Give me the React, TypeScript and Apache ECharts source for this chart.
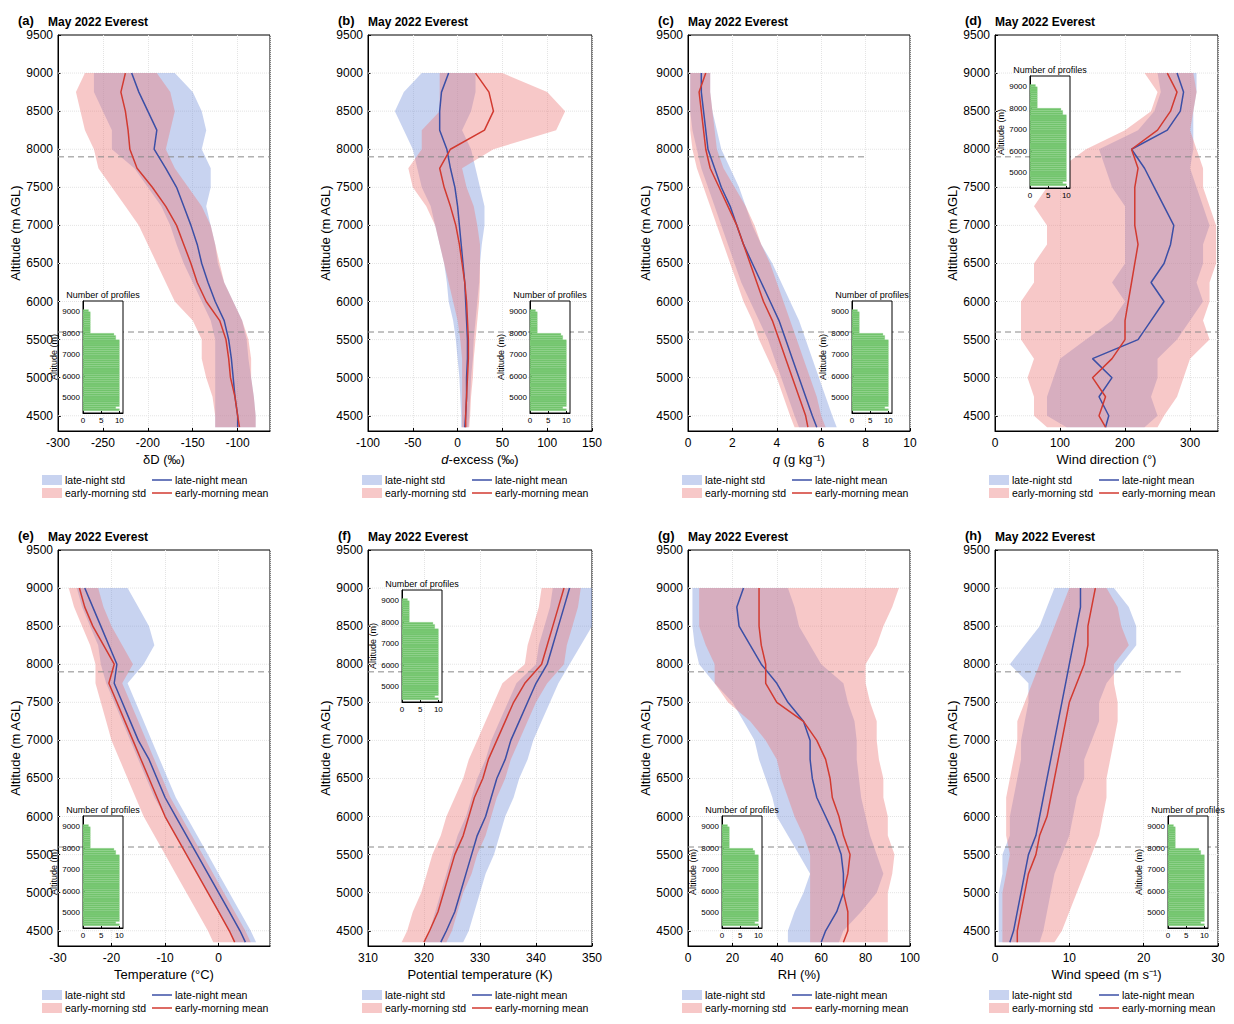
import React, { useEffect, useRef } from 'react';
import * as echarts from 'echarts';

const FONT = 'Liberation Sans';
const BLUE = '#3b4fa6';
const RED = '#d23a30';
const BLUE_BAND = 'rgba(125,150,220,0.42)';
const RED_BAND = 'rgba(235,125,125,0.42)';
const GREEN = '#72c46c';

const ALT = [4350, 4500, 4750, 5000, 5250, 5500, 5750, 6000, 6250, 6500, 6750, 7000, 7250, 7500, 7750, 8000, 8250, 8500, 8750, 9000];
const ALT_TICKS = [4500, 5000, 5500, 6000, 6500, 7000, 7500, 8000, 8500, 9000, 9500];
const INSET_TICKS = [5000, 6000, 7000, 8000, 9000];

// profile counts per 100 m bin
const HIST_ALT = [4450, 4550, 4650, 4750, 4850, 4950, 5050, 5150, 5250, 5350, 5450, 5550, 5650, 5750, 5850, 5950, 6050, 6150, 6250, 6350, 6450, 6550, 6650, 6750, 6850, 6950, 7050, 7150, 7250, 7350, 7450, 7550, 7650, 7750, 7850, 7950, 8050, 8150, 8250, 8350, 8450, 8550, 8650, 8750, 8850, 8950, 9050];
const HIST_N = [10, 9, 10, 10, 10, 10, 10, 10, 10, 10, 10, 10, 10, 10, 10, 10, 10, 10, 10, 10, 10, 10, 10, 10, 10, 10, 10, 10, 10, 10, 10, 10, 10, 9, 9, 8.5, 2, 2, 2, 2, 2, 2, 2, 2, 2, 2, 1.5];

// (a) dD
const dD_ln = [-100, -100, -103, -105, -107, -110, -115, -125, -133, -140, -145, -152, -160, -168, -180, -193, -190, -200, -210, -218];
const dD_em = [-98, -100, -103, -108, -110, -113, -120, -135, -145, -152, -160, -168, -180, -195, -212, -220, -222, -225, -230, -225];
const dD_lnLo = [-125, -125, -125, -125, -125, -125, -130, -140, -150, -160, -168, -175, -185, -200, -215, -240, -240, -250, -260, -260];
const dD_lnHi = [-80, -80, -82, -85, -88, -90, -95, -105, -115, -122, -125, -130, -135, -130, -130, -140, -135, -140, -150, -170];
const dD_emLo = [-125, -125, -128, -135, -140, -140, -150, -170, -180, -190, -200, -210, -225, -240, -255, -260, -270, -275, -280, -270];
const dD_emHi = [-80, -80, -82, -85, -85, -88, -95, -105, -115, -120, -125, -130, -140, -155, -170, -180, -175, -170, -175, -190];

// (b) d-excess
const dx_ln = [8, 9, 10, 10, 11, 11, 10, 9, 8, 6, 4, 2, 0, -3, -8, -12, -20, -20, -18, -10];
const dx_em = [9, 9, 10, 11, 12, 12, 11, 10, 8, 5, 2, -2, -8, -15, -20, -8, 30, 40, 35, 20];
const dx_lnLo = [4, 4, 3, 2, 0, -2, -5, -10, -12, -15, -20, -25, -30, -40, -45, -50, -60, -70, -60, -40];
const dx_lnHi = [12, 13, 14, 15, 17, 18, 20, 22, 24, 25, 27, 30, 30, 25, 20, 15, 5, 15, 20, 20];
const dx_emLo = [5, 5, 5, 5, 5, 3, 0, -5, -10, -15, -20, -25, -35, -50, -55, -40, -40, -20, -20, -20];
const dx_emHi = [13, 14, 15, 17, 18, 20, 22, 24, 25, 25, 25, 22, 18, 10, 5, 40, 110, 120, 100, 50];

// (c) q
const q_ln = [5.8, 5.6, 5.3, 5.0, 4.7, 4.4, 4.1, 3.7, 3.3, 2.9, 2.5, 2.2, 1.9, 1.5, 1.2, 0.9, 0.8, 0.7, 0.6, 0.6];
const q_em = [5.4, 5.3, 5.0, 4.7, 4.4, 4.1, 3.8, 3.4, 3.1, 2.8, 2.5, 2.2, 1.8, 1.4, 1.0, 0.8, 0.7, 0.6, 0.5, 0.8];
const q_lnLo = [5.0, 4.8, 4.5, 4.2, 3.9, 3.6, 3.2, 2.8, 2.4, 2.1, 1.8, 1.5, 1.2, 0.9, 0.6, 0.4, 0.2, 0.1, 0.1, 0.1];
const q_lnHi = [6.7, 6.5, 6.2, 5.9, 5.6, 5.3, 5.0, 4.6, 4.2, 3.8, 3.3, 2.9, 2.6, 2.3, 1.9, 1.5, 1.3, 1.1, 1.0, 1.0];
const q_emLo = [4.8, 4.6, 4.3, 4.0, 3.6, 3.2, 2.9, 2.5, 2.2, 1.9, 1.6, 1.3, 1.0, 0.7, 0.4, 0.2, 0.1, 0.1, 0.1, 0.1];
const q_emHi = [6.2, 6.0, 5.8, 5.5, 5.2, 4.9, 4.6, 4.3, 4.0, 3.7, 3.3, 3.0, 2.6, 2.1, 1.6, 1.3, 1.2, 1.1, 1.0, 1.0];

// (d) wind direction
const wd_ln = [170, 175, 160, 180, 150, 220, 240, 260, 240, 260, 270, 275, 260, 245, 230, 210, 265, 285, 290, 280];
const wd_em = [170, 160, 170, 150, 180, 200, 200, 205, 210, 215, 220, 215, 215, 215, 220, 210, 250, 270, 280, 265];
const wd_lnLo = [110, 80, 80, 90, 100, 140, 180, 200, 180, 200, 200, 200, 200, 180, 170, 160, 220, 245, 255, 250];
const wd_lnHi = [230, 250, 240, 250, 250, 280, 300, 320, 310, 320, 320, 330, 320, 310, 300, 305, 305, 305, 310, 310];
const wd_emLo = [80, 60, 60, 50, 60, 40, 40, 40, 60, 60, 80, 80, 60, 80, 100, 140, 200, 240, 250, 230];
const wd_emHi = [250, 260, 280, 290, 300, 330, 320, 330, 330, 340, 340, 340, 330, 320, 320, 310, 300, 305, 310, 305];

// (e) temperature
const t_ln = [5, 4, 2, 0, -2, -4, -6, -8, -10, -11.5, -13, -15, -16.5, -18, -19.5, -19, -20.5, -22, -23.5, -25];
const t_em = [3, 2, 0, -2, -4, -6, -8, -10, -11.5, -13, -14.5, -16, -17.5, -19, -20.5, -19.5, -21.5, -23.5, -25, -26];
const t_lnLo = [3, 2, 0, -2, -4, -6, -8, -10, -12, -13.5, -15, -16.5, -18, -19.5, -21, -22, -22.5, -24, -25.5, -26.5];
const t_lnHi = [7, 6, 4, 2, 0, -2, -4, -6, -8, -9.5, -11, -12.5, -14, -15.5, -17, -14, -12, -13, -15, -17];
const t_emLo = [-1, -2, -4, -6, -8, -10, -12, -14, -15.5, -17, -18.5, -20, -21, -22, -23, -23, -24, -25.5, -27, -28];
const t_emHi = [6, 5, 3, 1, -1, -3, -5, -7, -9, -10.5, -12, -13.5, -15, -16.5, -18, -16, -18, -20, -21.5, -22.5];

// (f) potential temperature
const th_ln = [323, 324, 325.5, 326.5, 327.5, 328.5, 329.5, 331, 332, 333, 334.5, 335.5, 337, 338.5, 340, 342, 343, 344, 345, 346];
const th_em = [320, 321, 322.5, 323.5, 324.5, 325.5, 327, 328, 329, 330.5, 331.5, 333, 334.5, 336, 338, 341, 342, 343, 344, 345];
const th_lnLo = [320, 321, 322, 323, 324, 325, 326, 327.5, 328.5, 329.5, 331, 332, 333.5, 335, 336.5, 340, 340.5, 341.5, 342.5, 343];
const th_lnHi = [327, 328, 329, 330, 331, 332.5, 333.5, 334.5, 336, 337, 338.5, 339.5, 341, 342.5, 344, 346, 348, 350, 350, 350];
const th_emLo = [316, 317, 318, 319.5, 320.5, 321.5, 323, 324, 325.5, 327, 328, 329.5, 331, 332.5, 334, 338, 338.5, 339.5, 340.5, 341];
const th_emHi = [324, 325, 326, 327, 328.5, 329.5, 331, 332, 333, 334.5, 335.5, 337, 338.5, 340, 342, 345, 345.5, 346.5, 347.5, 348];

// (g) RH
const rh_ln = [60, 62, 67, 70, 70, 69, 66, 62, 58, 56, 55, 55, 52, 45, 40, 33, 28, 23, 22, 25];
const rh_em = [70, 72, 72, 70, 72, 73, 70, 68, 65, 64, 62, 58, 52, 40, 35, 35, 33, 32, 32, 32];
const rh_lnLo = [45, 45, 48, 52, 55, 50, 45, 40, 38, 35, 32, 30, 25, 20, 12, 5, 3, 2, 2, 2];
const rh_lnHi = [68, 70, 78, 85, 88, 85, 82, 80, 78, 77, 76, 76, 75, 72, 70, 60, 55, 50, 48, 45];
const rh_emLo = [55, 55, 55, 55, 55, 55, 52, 48, 45, 42, 40, 35, 28, 18, 12, 12, 8, 5, 5, 5];
const rh_emHi = [90, 90, 90, 90, 92, 93, 90, 90, 88, 88, 86, 85, 85, 82, 80, 80, 85, 88, 92, 95];

// (h) wind speed
const ws_ln = [2, 2.5, 3, 3.5, 4, 4.5, 5.5, 6, 6.5, 7, 7.5, 8, 8.5, 9, 9.5, 10, 10.5, 11, 11.5, 11.5];
const ws_em = [3, 3, 3.5, 4, 4.5, 5.5, 6, 7, 7.5, 8, 8.5, 9, 9.5, 10, 11, 12, 12.5, 12.5, 13, 13.5];
const ws_lnLo = [0.5, 0.5, 0.5, 0.5, 1, 1, 2, 2, 2.5, 3, 3.5, 3.5, 4, 4.5, 4.5, 2, 4, 6, 7, 8];
const ws_lnHi = [6, 6.5, 7, 7.5, 8, 9, 10, 10.5, 11, 12, 12, 13, 14, 14, 15, 17, 19, 19, 18, 16];
const ws_emLo = [1, 1, 1, 1, 1.5, 2, 1.5, 1.5, 1.5, 2, 2.5, 3, 3, 4, 5, 6, 7, 8, 9, 10];
const ws_emHi = [8, 9, 10, 11, 12, 13, 14, 14.5, 15, 15, 15.5, 16, 16.5, 16.5, 16, 16, 18, 17, 16.5, 15];

const PANELS = [
  { tag: '(a)', name: 'δD (‰)', min: -300, max: -64, interval: 50, ln: dD_ln, em: dD_em, lnLo: dD_lnLo, lnHi: dD_lnHi, emLo: dD_emLo, emHi: dD_emHi, dashEnd: -64, inset: [75, 293] },
  { tag: '(b)', name: '{i|d}-excess (‰)', min: -100, max: 150, interval: 50, ln: dx_ln, em: dx_em, lnLo: dx_lnLo, lnHi: dx_lnHi, emLo: dx_emLo, emHi: dx_emHi, dashEnd: 150, inset: [522, 293] },
  { tag: '(c)', name: '{i|q} (g kg⁻¹)', min: 0, max: 10, interval: 2, ln: q_ln, em: q_em, lnLo: q_lnLo, lnHi: q_lnHi, emLo: q_emLo, emHi: q_emHi, dashEnd: 8, inset: [844, 293] },
  { tag: '(d)', name: 'Wind direction (°)', min: 0, max: 343, interval: 100, ln: wd_ln, em: wd_em, lnLo: wd_lnLo, lnHi: wd_lnHi, emLo: wd_emLo, emHi: wd_emHi, dashEnd: 343, inset: [1022, 68] },
  { tag: '(e)', name: 'Temperature (°C)', min: -30, max: 9.6, interval: 10, ln: t_ln, em: t_em, lnLo: t_lnLo, lnHi: t_lnHi, emLo: t_emLo, emHi: t_emHi, dashEnd: 9.6, inset: [75, 808] },
  { tag: '(f)', name: 'Potential temperature (K)', min: 310, max: 350, interval: 10, ln: th_ln, em: th_em, lnLo: th_lnLo, lnHi: th_lnHi, emLo: th_emLo, emHi: th_emHi, dashEnd: 350, inset: [394, 582] },
  { tag: '(g)', name: 'RH (%)', min: 0, max: 100, interval: 20, ln: rh_ln, em: rh_em, lnLo: rh_lnLo, lnHi: rh_lnHi, emLo: rh_emLo, emHi: rh_emHi, dashEnd: 100, inset: [714, 808] },
  { tag: '(h)', name: 'Wind speed (m s⁻¹)', min: 0, max: 30, interval: 10, ln: ws_ln, em: ws_em, lnLo: ws_lnLo, lnHi: ws_lnHi, emLo: ws_emLo, emHi: ws_emHi, dashEnd: 25, inset: [1160, 808] },
];

const COL_LEFT = [40, 360, 680, 987];
const COL_WIDTH = [222, 224, 222, 223];
const ROW_TOP = [27, 542];
const PLOT_H = 396;

const bandSeries = (lo: number[], hi: number[], color: string, idx: number) => ({
  type: 'custom',
  xAxisIndex: idx,
  yAxisIndex: idx,
  data: [0],
  silent: true,
  renderItem: (_p: any, api: any) => {
    const pts: number[][] = [];
    ALT.forEach((a, i) => pts.push(api.coord([hi[i], a])));
    for (let i = ALT.length - 1; i >= 0; i--) pts.push(api.coord([lo[i], ALT[i]]));
    return { type: 'polygon', shape: { points: pts }, style: { fill: color } };
  },
});

const App: React.FC = () => {
  const divEL = useRef(null);

  useEffect(() => {
    const instance = echarts.init(divEL.current as any, undefined, { renderer: 'svg' });
    const grid: any[] = [];
    const xAxis: any[] = [];
    const yAxis: any[] = [];
    const series: any[] = [];
    const graphic: any[] = [];
    const txt = { fontFamily: FONT, color: '#000' };
    const plain = (v: number) => String(v);

    PANELS.forEach((p, k) => {
      const col = k % 4;
      const row = Math.floor(k / 4);
      const left = COL_LEFT[col];
      const top = ROW_TOP[row];
      grid.push({ left, top, width: COL_WIDTH[col], height: PLOT_H, show: true, borderColor: '#000', borderWidth: 1 });
      xAxis.push({
        gridIndex: k, type: 'value', min: p.min, max: p.max, interval: p.interval,
        name: p.name, nameLocation: 'middle', nameGap: 22,
        nameTextStyle: { ...txt, fontSize: 13, rich: { i: { fontStyle: 'italic', fontSize: 13, fontFamily: FONT } } },
        axisLabel: { ...txt, fontSize: 12, showMaxLabel: p.max % p.interval === 0, margin: 6, formatter: plain },
        axisLine: { show: true, onZero: false, lineStyle: { color: '#000' } },
        axisTick: { inside: true, length: 3, lineStyle: { color: '#000' } },
        splitLine: { show: true, lineStyle: { color: '#e4e4e4', type: 'dotted' } },
      });
      yAxis.push({
        gridIndex: k, type: 'value', min: 4300, max: 9500,
        name: 'Altitude (m AGL)', nameLocation: 'middle', nameGap: 36,
        nameTextStyle: { ...txt, fontSize: 13 },
        axisLabel: { ...txt, fontSize: 12, margin: 5, customValues: ALT_TICKS, formatter: plain },
        axisLine: { show: true, onZero: false, lineStyle: { color: '#000' } },
        axisTick: { inside: true, length: 3, lineStyle: { color: '#000' }, customValues: ALT_TICKS },
        splitLine: { show: false },
      });
      // horizontal dotted grid lines
      ALT_TICKS.slice(0, -1).forEach((a) => {
        series.push({ type: 'line', xAxisIndex: k, yAxisIndex: k, symbol: 'none', silent: true, z: 0, lineStyle: { color: '#e4e4e4', width: 1, type: 'dotted' }, data: [[p.min, a], [p.max, a]] });
      });
      series.push(bandSeries(p.lnLo, p.lnHi, BLUE_BAND, k));
      series.push(bandSeries(p.emLo, p.emHi, RED_BAND, k));
      const dash = { type: 'line', xAxisIndex: k, yAxisIndex: k, symbol: 'none', silent: true, lineStyle: { color: '#888', width: 1, type: [6, 4] } };
      series.push({ ...dash, data: [[p.min, 7900], [p.dashEnd, 7900]] });
      series.push({ ...dash, data: [[p.min, 5600], [p.max, 5600]] });
      series.push({ type: 'line', xAxisIndex: k, yAxisIndex: k, symbol: 'none', lineStyle: { color: BLUE, width: 1.5 }, data: ALT.map((a, i) => [p.ln[i], a]) });
      series.push({ type: 'line', xAxisIndex: k, yAxisIndex: k, symbol: 'none', lineStyle: { color: RED, width: 1.5 }, data: ALT.map((a, i) => [p.em[i], a]) });

      graphic.push({ type: 'text', left: left - 30, top: top - 21, style: { text: p.tag, font: `bold 13px ${FONT}`, fill: '#000' } });
      graphic.push({ type: 'text', left: left, top: top - 19, style: { text: 'May 2022 Everest', font: `bold 12px ${FONT}`, fill: '#000' } });
      const ly = top + PLOT_H + 49;
      const items = [
        { dx: -6, dy: 0, kind: 'rect', color: BLUE_BAND, label: 'late-night std' },
        { dx: 104, dy: 0, kind: 'line', color: BLUE, label: 'late-night mean' },
        { dx: -6, dy: 13, kind: 'rect', color: RED_BAND, label: 'early-morning std' },
        { dx: 104, dy: 13, kind: 'line', color: RED, label: 'early-morning mean' },
      ];
      items.forEach((it) => {
        const x = left + it.dx;
        const y = ly + it.dy;
        if (it.kind === 'rect') graphic.push({ type: 'rect', shape: { x, y: y - 5, width: 20, height: 10 }, style: { fill: it.color } });
        else graphic.push({ type: 'line', shape: { x1: x, y1: y, x2: x + 20, y2: y }, style: { stroke: it.color, lineWidth: 1.5 } });
        graphic.push({ type: 'text', x: x + 23, y: y - 6, style: { text: it.label, font: `10.5px ${FONT}`, fill: '#000' } });
      });
    });

    // inset histograms
    PANELS.forEach((p, k) => {
      const gi = PANELS.length + k;
      const [ix, iy] = p.inset;
      grid.push({ left: ix, top: iy, width: 40, height: 112, show: true, backgroundColor: '#fff', borderColor: '#000', borderWidth: 1, z: 5 });
      xAxis.push({
        gridIndex: gi, type: 'value', min: 0, max: 11, interval: 5, z: 5,
        axisLabel: { ...txt, fontSize: 8, margin: 3, showMaxLabel: false, formatter: plain },
        axisLine: { show: true, onZero: false, lineStyle: { color: '#000' } },
        axisTick: { inside: true, length: 2, lineStyle: { color: '#000' } },
        splitLine: { show: false },
      });
      yAxis.push({
        gridIndex: gi, type: 'value', min: 4300, max: 9500, z: 5,
        name: 'Altitude (m)', nameLocation: 'middle', nameGap: 21,
        nameTextStyle: { ...txt, fontSize: 9 },
        axisLabel: { ...txt, fontSize: 8, margin: 3, customValues: INSET_TICKS, formatter: plain },
        axisLine: { show: true, onZero: false, lineStyle: { color: '#000' } },
        axisTick: { inside: true, length: 2, lineStyle: { color: '#000' }, customValues: INSET_TICKS },
        splitLine: { show: false },
      });
      series.push({
        type: 'custom', xAxisIndex: gi, yAxisIndex: gi, z: 6, silent: true,
        data: HIST_ALT.map((a, i) => [HIST_N[i], a]),
        renderItem: (_p: any, api: any) => {
          const n = api.value(0);
          const a = api.value(1);
          const p0 = api.coord([0, a + 50]);
          const p1 = api.coord([n, a - 50]);
          return { type: 'rect', shape: { x: p0[0], y: p0[1], width: p1[0] - p0[0], height: p1[1] - p0[1] }, style: { fill: GREEN, stroke: '#8fd48a', lineWidth: 0.3 } };
        },
      });
      graphic.push({ type: 'text', x: ix + 20, y: iy - 11, z: 10, style: { text: 'Number of profiles', font: `9px ${FONT}`, fill: '#000', align: 'center' } });
    });

    instance.setOption({ animation: false, grid, xAxis, yAxis, series, graphic });
    return () => {
      instance.dispose();
    };
  }, []);

  return <div ref={divEL} style={{ width: 1226, height: 1010 }}></div>;
};

export default App;
